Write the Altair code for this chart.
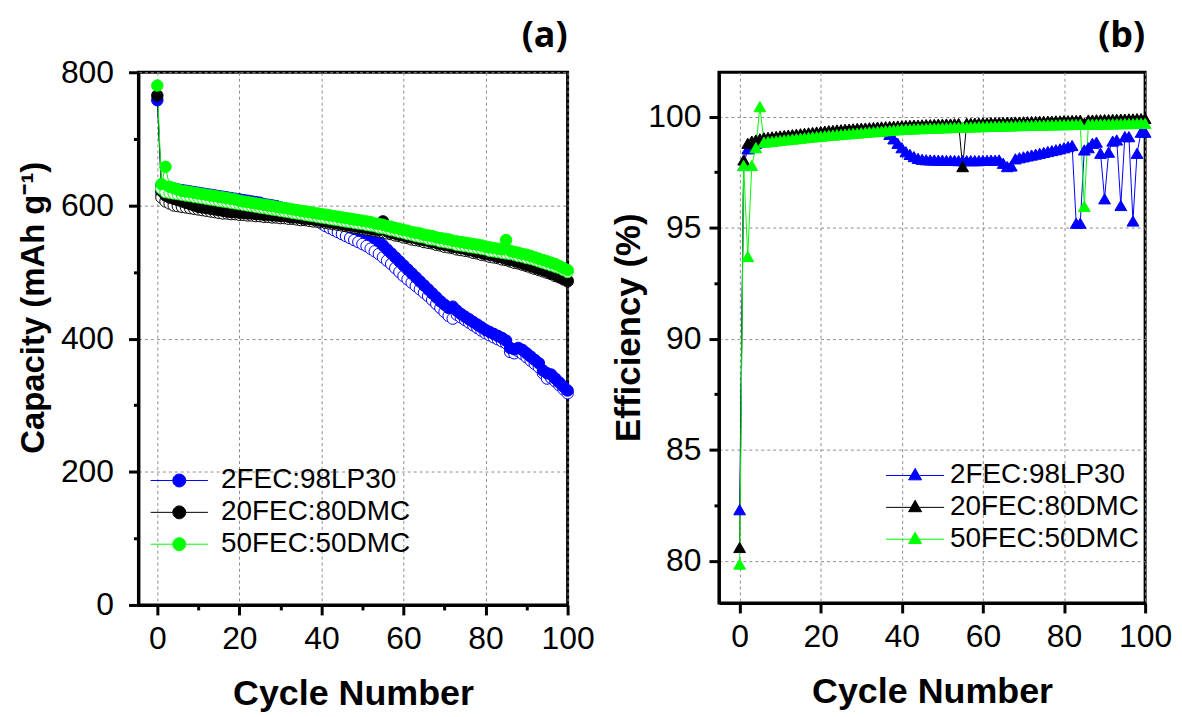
import altair as alt
import pandas as pd

# ---------------- data ----------------
cycles = list(range(101))
series_names = ["2FEC:98LP30", "20FEC:80DMC", "50FEC:50DMC"]
series_colors = ["#0000ff", "#000000", "#00ff00"]

cap_x_ticks = [0, 10, 20, 30, 40, 50, 60, 70, 80, 90, 100]
cap_y_ticks = [0, 100, 200, 300, 400, 500, 600, 700, 800]
eff_x_ticks = [0, 20, 40, 60, 80, 100]
eff_y_ticks = [80, 82.5, 85, 87.5, 90, 92.5, 95, 97.5, 100]

# capacity (mAh g-1), filled markers, cycles 0..100
cap_blue_charge = [
    758, 630, 627, 626, 625, 624, 623, 622, 621, 620,
    619, 618, 617, 616, 615, 614, 613, 612, 611, 610,
    609, 608, 607, 606, 605, 604, 602, 601, 600, 599,
    597, 596, 594, 593, 591, 590, 588, 586, 584, 581,
    578, 577, 576, 575, 573, 571, 569, 567, 565, 563,
    561, 558, 555, 551, 546, 540, 534, 528, 522, 516,
    510, 504, 498, 492, 486, 480, 474, 468, 462, 456,
    451, 446, 448, 442, 437, 433, 429, 425, 421, 417,
    413, 410, 407, 404, 401, 397, 386, 384, 386, 383,
    378, 373, 368, 363, 352, 348, 346, 340, 334, 328,
    322]
cap_black_charge = [
    765, 622, 615, 612, 610, 608, 606, 604, 602, 600,
    598, 597, 596, 595, 594, 593, 592, 591, 590, 590,
    589, 589, 588, 588, 587, 587, 586, 586, 585, 585,
    584, 584, 583, 582, 582, 581, 580, 580, 579, 578,
    577, 576, 575, 574, 573, 572, 571, 570, 569, 568,
    567, 566, 565, 564, 563, 576, 561, 559, 558, 556,
    555, 553, 552, 551, 549, 548, 547, 545, 544, 542,
    541, 540, 538, 537, 536, 535, 533, 532, 530, 529,
    527, 526, 525, 523, 522, 520, 518, 517, 515, 513,
    511, 509, 507, 505, 503, 501, 498, 496, 493, 490,
    487]
cap_green_charge = [
    780, 632, 658, 628, 626, 624, 622, 621, 620, 619,
    618, 617, 616, 615, 614, 613, 612, 611, 610, 609,
    607, 606, 605, 604, 603, 602, 601, 600, 599, 598,
    597, 596, 595, 594, 593, 592, 591, 590, 589, 588,
    587, 586, 585, 584, 583, 582, 581, 580, 579, 578,
    577, 576, 575, 573, 572, 571, 569, 568, 566, 565,
    563, 562, 560, 559, 558, 556, 555, 554, 552, 551,
    550, 549, 547, 546, 545, 544, 543, 542, 541, 540,
    538, 537, 536, 535, 534, 548, 532, 530, 529, 527,
    526, 524, 522, 520, 518, 516, 514, 512, 509, 506,
    503]

# capacity, open markers, cycles 1..100
cap_blue_discharge = [
    618, 616, 615, 614, 613, 612, 611, 610, 609, 608,
    607, 606, 605, 604, 603, 602, 601, 600, 599, 598,
    597, 596, 595, 594, 593, 592, 591, 590, 589, 588,
    587, 586, 585, 584, 583, 582, 580, 578, 576, 573,
    569, 566, 563, 560, 557, 554, 551, 548, 545, 542,
    539, 535, 531, 527, 522, 517, 512, 506, 500, 494,
    489, 484, 479, 474, 469, 464, 458, 452, 446, 440,
    434, 430, 436, 432, 428, 424, 420, 416, 412, 408,
    405, 402, 399, 396, 393, 380, 378, 381, 377, 372,
    367, 362, 357, 348, 340, 341, 336, 330, 324, 318]
cap_black_discharge = [
    612, 606, 603, 600, 599, 598, 597, 596, 595, 594,
    593, 592, 591, 590, 589, 588, 588, 587, 587, 586,
    586, 585, 585, 584, 584, 583, 583, 582, 582, 581,
    581, 580, 580, 579, 578, 578, 577, 576, 576, 575,
    574, 573, 572, 571, 570, 569, 568, 567, 566, 565,
    564, 563, 562, 561, 560, 558, 557, 555, 554, 552,
    551, 549, 548, 547, 545, 544, 543, 541, 540, 538,
    537, 536, 534, 533, 532, 531, 529, 528, 526, 525,
    523, 522, 521, 519, 518, 516, 514, 513, 511, 509,
    507, 505, 503, 501, 499, 497, 494, 492, 489, 486]
cap_green_discharge = [
    625, 620, 619, 618, 617, 616, 615, 614, 613, 612,
    611, 610, 609, 608, 607, 606, 605, 604, 603, 602,
    601, 600, 599, 598, 597, 596, 595, 594, 593, 592,
    591, 590, 589, 588, 587, 586, 585, 584, 583, 582,
    581, 580, 579, 578, 577, 576, 575, 574, 573, 572,
    571, 570, 569, 567, 566, 565, 563, 562, 560, 559,
    557, 556, 554, 553, 552, 550, 549, 548, 546, 545,
    544, 543, 541, 540, 539, 538, 537, 536, 535, 534,
    532, 531, 530, 529, 528, 527, 526, 524, 523, 521,
    520, 518, 516, 514, 512, 510, 508, 506, 503, 500]

# coulombic efficiency (%), cycles 0..100
eff_blue = [
    82.3, 97.8, 98.55, 98.7, 98.8, 98.85, 98.9, 98.92, 98.95, 98.97,
    99.0, 99.02, 99.04, 99.06, 99.08, 99.1, 99.12, 99.14, 99.16, 99.18,
    99.2, 99.22, 99.24, 99.26, 99.28, 99.3, 99.31, 99.32, 99.33, 99.34,
    99.35, 99.36, 99.37, 99.38, 99.39, 99.4, 99.35, 99.2, 99.0, 98.8,
    98.6, 98.42, 98.3, 98.2, 98.12, 98.08, 98.06, 98.05, 98.05, 98.04,
    98.04, 98.03, 98.03, 98.03, 98.02, 98.02, 98.02, 98.02, 98.02, 98.02,
    98.03, 98.03, 98.04, 98.04, 98.05, 97.9, 97.75, 97.78, 98.1, 98.15,
    98.19, 98.23, 98.27, 98.31, 98.35, 98.39, 98.43, 98.47, 98.51, 98.55,
    98.6, 98.65, 98.7, 95.2, 95.2, 98.5, 98.6, 98.8, 98.85, 98.35,
    96.3, 98.4, 98.9, 98.95, 96.0, 99.1, 99.1, 95.3, 98.35, 99.3, 99.3]
eff_black = [
    80.6, 98.05, 98.8, 98.9, 98.95, 99.0, 99.05, 99.07, 99.09, 99.11,
    99.13, 99.15, 99.17, 99.19, 99.21, 99.23, 99.25, 99.27, 99.29, 99.31,
    99.33, 99.35, 99.37, 99.38, 99.4, 99.41, 99.43, 99.44, 99.45, 99.47,
    99.48, 99.49, 99.5, 99.51, 99.53, 99.54, 99.55, 99.56, 99.57, 99.58,
    99.59, 99.6, 99.61, 99.62, 99.62, 99.63, 99.64, 99.64, 99.65, 99.66,
    99.66, 99.67, 99.67, 99.68, 99.69, 97.75, 99.7, 99.7, 99.71, 99.71,
    99.72, 99.72, 99.73, 99.73, 99.74, 99.74, 99.75, 99.75, 99.76, 99.76,
    99.77, 99.77, 99.78, 99.78, 99.79, 99.79, 99.8, 99.8, 99.81, 99.81,
    99.82, 99.82, 99.83, 99.83, 99.84, 99.7, 99.85, 99.85, 99.86, 99.86,
    99.87, 99.87, 99.88, 99.88, 99.89, 99.89, 99.9, 99.9, 99.91, 99.91, 99.92]
eff_green = [
    79.85, 97.8, 93.7, 97.8, 98.6, 100.45, 98.85, 98.87, 98.89, 98.91,
    98.93, 98.95, 98.97, 98.99, 99.01, 99.03, 99.05, 99.07, 99.09, 99.1,
    99.12, 99.14, 99.16, 99.17, 99.19, 99.2, 99.22, 99.23, 99.25, 99.26,
    99.28, 99.29, 99.31, 99.32, 99.34, 99.35, 99.37, 99.38, 99.4, 99.41,
    99.43, 99.44, 99.44, 99.45, 99.46, 99.46, 99.47, 99.48, 99.48, 99.49,
    99.5, 99.5, 99.51, 99.52, 99.52, 99.53, 99.53, 99.54, 99.54, 99.55,
    99.55, 99.56, 99.56, 99.57, 99.57, 99.58, 99.58, 99.59, 99.59, 99.6,
    99.6, 99.61, 99.61, 99.62, 99.62, 99.62, 99.63, 99.63, 99.63, 99.64,
    99.64, 99.64, 99.65, 99.65, 99.65, 95.96, 99.66, 99.66, 99.66, 99.67,
    99.67, 99.67, 99.68, 99.68, 99.68, 99.69, 99.69, 99.69, 99.7, 99.7, 99.7]

# ---------------- tables ----------------
cap_rows = []
for name, dis, ch in zip(series_names,
                         [cap_blue_discharge, cap_black_discharge, cap_green_discharge],
                         [cap_blue_charge, cap_black_charge, cap_green_charge]):
    for c, v in zip(cycles[1:], dis):
        cap_rows.append({"cycle": c, "value": v, "series": name, "kind": "open"})
    for c, v in zip(cycles, ch):
        cap_rows.append({"cycle": c, "value": v, "series": name, "kind": "filled"})
cap_df = pd.DataFrame(cap_rows)

eff_rows = []
for name, vals in zip(series_names, [eff_blue, eff_black, eff_green]):
    for c, v in zip(cycles, vals):
        eff_rows.append({"cycle": c, "value": v, "series": name})
eff_df = pd.DataFrame(eff_rows)

# ---------------- styling ----------------
FONT = "Liberation Sans"
CIRCLE_PATH = ("M-4,0H-0.9M0.9,0H4M-0.9,0A0.9,0.9,0,1,0,0.9,0"
               "A0.9,0.9,0,1,0,-0.9,0Z")
TRI_PATH = "M-4.7,0H4.7M0,-1.15L1.05,0.7L-1.05,0.7Z"

cscale = alt.Scale(domain=series_names, range=series_colors)


def legend(path, size, x, y, offset):
    return alt.Legend(title=None, orient="none", legendX=x, legendY=y,
                      symbolType=path, symbolSize=size, symbolStrokeWidth=1,
                      labelFont=FONT, labelFontSize=28, labelColor="black",
                      labelOffset=offset, rowPadding=4, padding=0,
                      labelLimit=400)


def major(test, a, b):
    return {"condition": {"test": test, "value": a}, "value": b}


leg_cap = legend(CIRCLE_PATH, 207, 27, 396, 28)
leg_eff = legend(TRI_PATH, 154, 183, 391, 21)

x_cap = alt.X("cycle:Q",
              scale=alt.Scale(domain=[-4.6, 100], nice=False, zero=False),
              axis=alt.Axis(title="Cycle Number", values=cap_x_ticks,
                            labelExpr="datum.value % 20 === 0 ? datum.label : ''",
                            tickSize=major("datum.value % 20 === 0", 10, 5),
                            gridOpacity=major("datum.value % 20 === 0", 1, 0)))
y_cap = alt.Y("value:Q",
              scale=alt.Scale(domain=[0, 800], nice=False),
              axis=alt.Axis(title="Capacity (mAh g⁻¹)", values=cap_y_ticks,
                            labelPadding=15, titlePadding=10, titleFontSize=33,
                            titleY=236,
                            labelExpr="datum.value % 200 === 0 ? datum.label : ''",
                            tickSize=major("datum.value % 200 === 0", 10, 5),
                            gridOpacity=major("datum.value % 200 === 0", 1, 0)))

cap_line = alt.Chart(cap_df).mark_line(strokeWidth=1).encode(
    x=x_cap, y=y_cap,
    stroke=alt.Stroke("series:N", scale=cscale, legend=leg_cap),
    detail="kind:N",
)
cap_pts = alt.Chart(cap_df).mark_point(size=133, strokeWidth=1, opacity=1).encode(
    x=x_cap, y=y_cap,
    stroke=alt.Stroke("series:N", scale=cscale, legend=leg_cap),
    fill=alt.when(alt.datum.kind == "filled").then(
        alt.Fill("series:N", scale=cscale, legend=leg_cap)
    ).otherwise(alt.value("white")),
)
left = alt.layer(cap_line, cap_pts).properties(
    width=431, height=535,
    title=alt.Title("(a)", anchor="end", frame="group", fontSize=36,
                    font="Open Sans", fontWeight="bold", color="black",
                    offset=1),
)

x_eff = alt.X("cycle:Q",
              scale=alt.Scale(domain=[-5.1, 100], nice=False, zero=False),
              axis=alt.Axis(title="Cycle Number", values=eff_x_ticks, tickSize=10))
y_eff = alt.Y("value:Q",
              scale=alt.Scale(domain=[78.1, 102], nice=False, zero=False),
              axis=alt.Axis(title="Efficiency (%)", values=eff_y_ticks,
                            labelPadding=8, titlePadding=1, titleFontSize=35,
                            titleY=256,
                            labelExpr="datum.value % 5 === 0 ? datum.label : ''",
                            tickSize=major("datum.value % 5 === 0", 10, 5),
                            gridOpacity=major("datum.value % 5 === 0", 1, 0)))

eff_line = alt.Chart(eff_df).mark_line(strokeWidth=1).encode(
    x=x_eff, y=y_eff,
    stroke=alt.Stroke("series:N", scale=cscale, legend=leg_eff),
)
eff_pts = alt.Chart(eff_df).mark_point(shape="triangle-up", size=140, strokeWidth=1,
                                       opacity=1).encode(
    x=x_eff, y=y_eff,
    stroke=alt.Stroke("series:N", scale=cscale, legend=leg_eff),
    fill=alt.Fill("series:N", scale=cscale, legend=leg_eff),
)
right = alt.layer(eff_line, eff_pts).properties(
    width=428, height=533,
    title=alt.Title("(b)", anchor="end", frame="group", fontSize=36,
                    font="Open Sans", fontWeight="bold", color="black",
                    offset=17),
)

chart = alt.hconcat(
    left, right, spacing=14, background="white",
    padding={"left": 8, "top": 7, "right": 0, "bottom": 0},
).resolve_scale(
    stroke="independent", fill="independent"
).resolve_legend(
    stroke="independent", fill="independent"
).configure_view(
    stroke="black", strokeWidth=3
).configure_axis(
    labelFont=FONT, labelFontSize=32, labelColor="black",
    titleFont=FONT, titleFontSize=36, titleFontWeight="bold", titleColor="black",
    tickColor="black", tickWidth=3, domainColor="black", domainWidth=3,
    gridColor="#8c8c8c", gridDash=[3, 3], gridWidth=1,
    labelPadding=9, titlePadding=22, labelFlush=False, labelOverlap=False,
    labelBound=False,
)

chart.save("out.html", embed_options={"renderer": "svg", "actions": False})
